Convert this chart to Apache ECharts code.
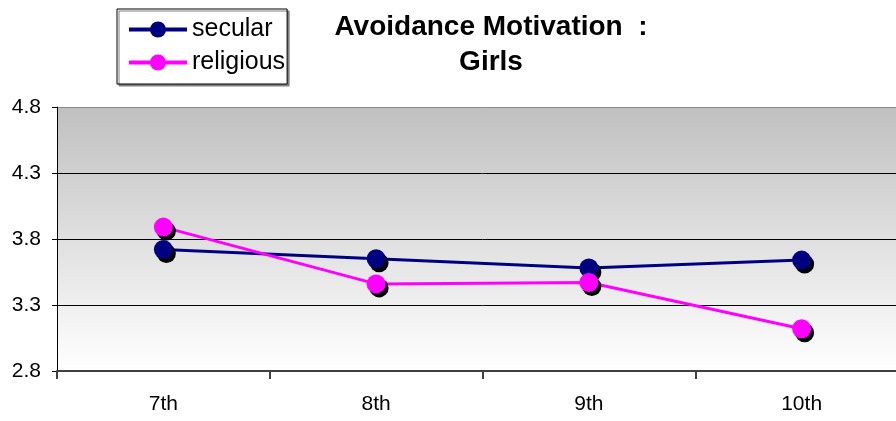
<!DOCTYPE html>
<html>
<head>
<meta charset="utf-8">
<script src="https://cdn.jsdelivr.net/npm/echarts@6/dist/echarts.min.js"></script>
<style>
html,body{margin:0;padding:0;background:#fff;overflow:hidden;width:896px;height:421px;}
#chart{width:908px;height:421px;}
</style>
</head>
<body>
<div id="chart"></div>
<script>
var categories = ['7th', '8th', '9th', '10th'];
var secular = [3.72, 3.65, 3.58, 3.64];
var religious = [3.89, 3.46, 3.47, 3.12];
var yTicks = [2.8, 3.3, 3.8, 4.3, 4.8];
var titleText = 'Avoidance Motivation  :\nGirls';

var chart = echarts.init(document.getElementById('chart'), null, {renderer: 'canvas'});
var FONT = 'Liberation Sans, Arial, sans-serif';
var noShadow = {shadowBlur: 0, shadowOffsetX: 0, shadowOffsetY: 0, shadowColor: 'rgba(0,0,0,0)'};

chart.setOption({
  animation: false,
  backgroundColor: '#ffffff',
  title: {
    text: titleText,
    left: 491,
    top: 10,
    padding: 0,
    textAlign: 'center',
    textStyle: {fontFamily: FONT, fontSize: 28, fontWeight: 'bold', color: '#000', lineHeight: 35}
  },
  legend: {
    orient: 'vertical',
    left: 117,
    top: 9,
    padding: [8, 2, 9, 10],
    itemWidth: 58,
    itemHeight: 20,
    itemGap: 8,
    backgroundColor: '#fff',
    borderColor: '#000',
    borderWidth: 1,
    shadowColor: '#808080',
    shadowBlur: 0,
    shadowOffsetX: 2,
    shadowOffsetY: 2,
    itemStyle: noShadow,
    lineStyle: {width: 4},
    textStyle: {fontFamily: FONT, fontSize: 25, color: '#000'},
    data: ['secular', 'religious']
  },
  grid: {
    left: 57,
    top: 107,
    right: 0,
    height: 264,
    show: true,
    borderWidth: 0,
    backgroundColor: {
      type: 'linear', x: 0, y: 0, x2: 0, y2: 1,
      colorStops: [{offset: 0, color: '#c0c0c0'}, {offset: 1, color: '#ffffff'}]
    }
  },
  xAxis: {
    type: 'category',
    data: categories,
    boundaryGap: true,
    axisLine: {lineStyle: {color: '#404040', width: 2}},
    axisTick: {show: true, length: 8, lineStyle: {color: '#404040', width: 2}},
    axisLabel: {fontFamily: FONT, fontSize: 21, color: '#000', margin: 23}
  },
  yAxis: {
    type: 'value',
    min: 2.8,
    max: 4.8,
    axisLine: {show: true, lineStyle: {color: '#000', width: 1}},
    axisTick: {show: true, length: 5, customValues: yTicks, lineStyle: {color: '#000'}},
    axisLabel: {fontFamily: FONT, fontSize: 21, color: '#000', margin: 16, customValues: yTicks,
      formatter: function (v) { return v.toFixed(1); }},
    splitLine: {show: true, lineStyle: {color: ['#404040', '#000', '#000', '#000', '#888'], width: 1}}
  },
  series: [
    {
      name: 'secular',
      type: 'line',
      data: secular,
      symbol: 'circle',
      symbolSize: 19,
      lineStyle: {color: '#000080', width: 3},
      itemStyle: {color: '#000080', shadowColor: '#000', shadowBlur: 0, shadowOffsetX: 3, shadowOffsetY: 4},
      z: 2
    },
    {
      name: 'religious',
      type: 'line',
      data: religious,
      symbol: 'circle',
      symbolSize: 19,
      lineStyle: {color: '#ff00ff', width: 3},
      itemStyle: {color: '#ff00ff', shadowColor: '#000', shadowBlur: 0, shadowOffsetX: 3, shadowOffsetY: 4},
      z: 3
    }
  ]
});
</script>
</body>
</html>
